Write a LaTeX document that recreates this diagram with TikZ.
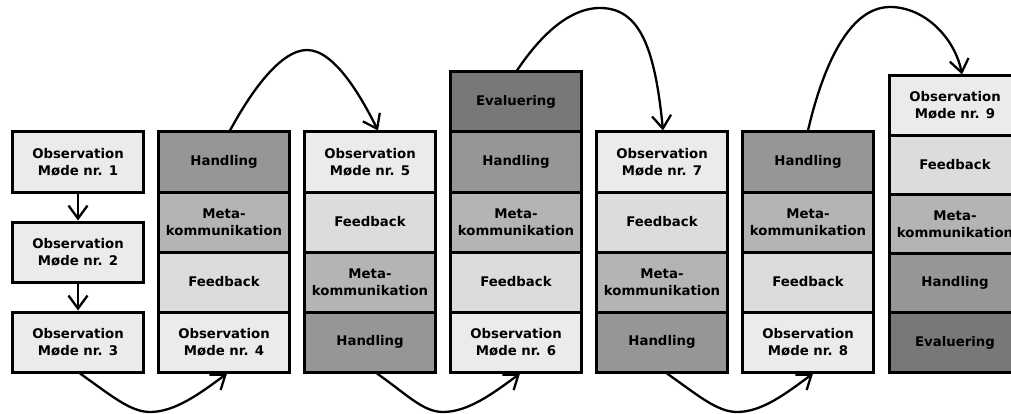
\documentclass[tikz,border=0pt]{standalone}
\usepackage{fontspec}
\setmainfont{DejaVu Sans}
\usetikzlibrary{arrows.meta}
\definecolor{obsgraa}{HTML}{EBEBEB}
\definecolor{feedgraa}{HTML}{DCDCDC}
\definecolor{metagraa}{HTML}{B4B4B4}
\definecolor{handgraa}{HTML}{969696}
\definecolor{evalgraa}{HTML}{787878}
\begin{document}
\begin{tikzpicture}[x=1pt,y=-1pt,
        felt/.style={draw, line width=3pt, minimum width=131pt, minimum height=60pt,
            inner sep=0pt, align=center, font=\fontsize{13.3}{17}\selectfont\bfseries},
        observation/.style={felt, fill=obsgraa},
        feedback/.style={felt, fill=feedgraa},
        meta/.style={felt, fill=metagraa},
        handling/.style={felt, fill=handgraa},
        evaluering/.style={felt, fill=evalgraa},
        pil/.style={line width=2.3pt, -{Straight Barb[length=13pt,width=19pt]}}]
    \fill[white] (0,0) rectangle (1011,414);
    \clip (0,0) rectangle (1011,414);
    % kolonne 1
    \node[observation] (k1a) at (78,162) {Observation\\Møde nr. 1};
    \node[observation] (k1b) at (78,252) {Observation\\Møde nr. 2};
    \node[observation] (k1c) at (78,342) {Observation\\Møde nr. 3};
    % kolonne 2
    \node[handling] (k2a) at (224,162) {Handling};
    \node[meta] (k2b) at (224,222) {Meta-\\kommunikation};
    \node[feedback] (k2c) at (224,282) {Feedback};
    \node[observation] (k2d) at (224,342) {Observation\\Møde nr. 4};
    % kolonne 3
    \node[observation] (k3a) at (370,162) {Observation\\Møde nr. 5};
    \node[feedback] (k3b) at (370,222) {Feedback};
    \node[meta] (k3c) at (370,282) {Meta-\\kommunikation};
    \node[handling] (k3d) at (370,342) {Handling};
    % kolonne 4
    \node[evaluering] (k4a) at (516,102) {Evaluering};
    \node[handling] (k4b) at (516,162) {Handling};
    \node[meta] (k4c) at (516,222) {Meta-\\kommunikation};
    \node[feedback] (k4d) at (516,282) {Feedback};
    \node[observation] (k4e) at (516,342) {Observation\\Møde nr. 6};
    % kolonne 5
    \node[observation] (k5a) at (662,162) {Observation\\Møde nr. 7};
    \node[feedback] (k5b) at (662,222) {Feedback};
    \node[meta] (k5c) at (662,282) {Meta-\\kommunikation};
    \node[handling] (k5d) at (662,342) {Handling};
    % kolonne 6
    \node[handling] (k6a) at (808,162) {Handling};
    \node[meta] (k6b) at (808,222) {Meta-\\kommunikation};
    \node[feedback] (k6c) at (808,282) {Feedback};
    \node[observation] (k6d) at (808,342) {Observation\\Møde nr. 8};
    % kolonne 7
    \node[observation, minimum height=59.2pt] (k7a) at (955,105.6) {Observation\\Møde nr. 9};
    \node[feedback, minimum height=59.2pt] (k7b) at (955,164.8) {Feedback};
    \node[meta, minimum height=59.2pt] (k7c) at (955,224) {Meta-\\kommunikation};
    \node[handling, minimum height=59.2pt] (k7d) at (955,283.2) {Handling};
    \node[evaluering, minimum height=59.2pt] (k7e) at (955,342.4) {Evaluering};
    % pile
    \draw[pil] (k1a) -- (k1b);
    \draw[pil] (k1b) -- (k1c);
    \draw[pil] ([xshift=2pt]k1c.south) .. controls +(30,21) and +(-20,0) .. (150,412)
        .. controls +(25,0) and +(-27,20) .. ([xshift=3pt]k2d.south);
    \draw[pil] ([xshift=6pt]k2a.north) .. controls +(20,-37) and +(-27,0) .. (307,50)
        .. controls +(28,0) and +(-16,-32) .. ([xshift=8pt]k3a.north);
    \draw[pil] ([xshift=7pt]k3d.south) .. controls +(30,21) and +(-20,0) .. (443,412)
        .. controls +(25,0) and +(-27,20) .. ([xshift=4pt]k4e.south);
    \draw[pil] ([xshift=1pt]k4a.north) .. controls +(18,-27) and +(-35,0) .. (600,8)
        .. controls +(40,0) and +(-8,-82) .. ([xshift=1pt]k5a.north);
    \draw[pil] ([xshift=5pt]k5d.south) .. controls +(30,21) and +(-20,0) .. (737,412)
        .. controls +(25,0) and +(-27,20) .. ([xshift=5pt]k6d.south);
    \draw[pil] (k6a.north) .. controls +(12,-52) and +(-45,0) .. (890,7)
        .. controls +(35,0) and +(-7,-36) .. ([xshift=7pt]k7a.north);
\end{tikzpicture}
\end{document}
